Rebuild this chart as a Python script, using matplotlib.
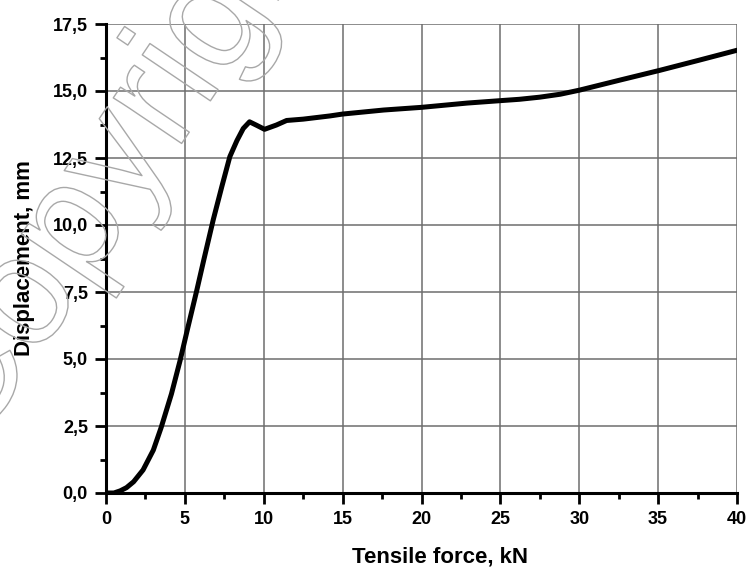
import numpy as np
import matplotlib.pyplot as plt
import matplotlib.patheffects as pe
from matplotlib.ticker import MultipleLocator, FuncFormatter

plt.rcParams['font.family'] = ['Liberation Sans', 'DejaVu Sans']

# tensile force, kN
force = [0.0, 0.5, 0.9, 1.3, 1.75, 2.35, 3.0, 3.5, 4.15, 4.7, 5.2, 5.75, 6.2, 6.8,
         7.35, 7.85, 8.3, 8.7, 9.1, 9.55, 10.05, 10.8, 11.45, 12.5, 14.2, 15.0,
         17.6, 20.0, 22.9, 25.0, 26.2, 27.5, 28.8, 30.0, 32.6, 35.1, 37.6, 40.0]
# displacement, mm
disp = [0.0, 0.0, 0.08, 0.2, 0.42, 0.86, 1.6, 2.45, 3.7, 4.95, 6.2, 7.55, 8.7, 10.2,
        11.45, 12.55, 13.15, 13.6, 13.85, 13.72, 13.57, 13.73, 13.9, 13.95, 14.07, 14.14,
        14.29, 14.39, 14.55, 14.64, 14.69, 14.77, 14.88, 15.03, 15.41, 15.77, 16.15, 16.52]

fig = plt.figure(figsize=[7.5, 5.7], dpi=100)
ax = fig.add_axes([106/750, 1-493/570, 631/750, 469/570])

ax.plot(force, disp, color='black', linewidth=3.6, solid_joinstyle='round',
        solid_capstyle='round', zorder=3)

ax.set_xlim(0, 40)
ax.set_ylim(0, 17.5)
ax.xaxis.set_major_locator(MultipleLocator(5))
ax.xaxis.set_minor_locator(MultipleLocator(2.5))
ax.yaxis.set_major_locator(MultipleLocator(2.5))
ax.yaxis.set_minor_locator(MultipleLocator(1.25))
ax.yaxis.set_major_formatter(FuncFormatter(lambda v, p: f'{v:.1f}'.replace('.', ',')))
ax.xaxis.set_major_formatter(FuncFormatter(lambda v, p: f'{v:.0f}'))

ax.grid(True, which='major', color='#6e6e6e', linewidth=1.1, zorder=1)
ax.set_axisbelow(True)

for s in ['top', 'right']:
    ax.spines[s].set_visible(False)
for s in ['left', 'bottom']:
    ax.spines[s].set_linewidth(2.2)

ax.tick_params(which='major', direction='out', length=8, width=2, labelsize=13, pad=5)
ax.tick_params(which='minor', direction='out', length=4.5, width=2)
for lab in ax.get_xticklabels() + ax.get_yticklabels():
    lab.set_fontweight('bold')

ax.set_xlabel('Tensile force, kN', fontsize=16, fontweight='bold')
ax.xaxis.set_label_coords(0.53, -0.115)
ax.set_ylabel('Displacement, mm', fontsize=16, fontweight='bold')
ax.yaxis.set_label_coords(-0.113, 0.5)

# watermark
fig.text(125/750, 1-155/570, 'Copyright', fontsize=112, rotation=56,
         ha='center', va='center', color='none',
         path_effects=[pe.Stroke(linewidth=1.0, foreground='#a8a8a8')], zorder=5)

fig.savefig('out.png', dpi=100)
